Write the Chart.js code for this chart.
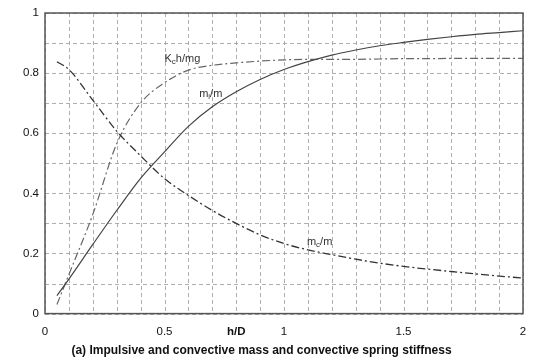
<!DOCTYPE html>
<html>
<head>
<meta charset="utf-8">
<script src="https://cdn.jsdelivr.net/npm/chart.js@4"></script>
<style>
   html, body { margin: 0; padding: 0; background: #fff; }
   #wrap { width: 534px; height: 360px; }
</style>
</head>
<body>
<div id="wrap"><canvas id="chart"></canvas></div>
<script>
// h/D values shared by all three curves
const hD = [0.05, 0.1, 0.2, 0.3, 0.4, 0.5, 0.6, 0.7, 0.8, 0.9, 1.0, 1.1, 1.2, 1.3, 1.4, 1.5, 1.6, 1.7, 1.8, 1.9, 2.0];
// impulsive mass ratio m_i/m
const miRatio = [0.06, 0.115, 0.23, 0.343, 0.45, 0.538, 0.623, 0.688, 0.738, 0.779, 0.812, 0.838, 0.86, 0.877, 0.891, 0.902, 0.912, 0.921, 0.929, 0.935, 0.941];
// convective mass ratio m_c/m
const mcRatio = [0.838, 0.812, 0.71, 0.607, 0.525, 0.449, 0.393, 0.343, 0.30, 0.262, 0.233, 0.212, 0.196, 0.181, 0.168, 0.157, 0.148, 0.14, 0.132, 0.125, 0.118];
// convective spring stiffness K_c h / m g
const kcRatio = [0.03, 0.13, 0.33, 0.565, 0.70, 0.768, 0.81, 0.826, 0.834, 0.84, 0.844, 0.846, 0.846, 0.846, 0.847, 0.848, 0.848, 0.849, 0.849, 0.849, 0.849];

const xLabels = [0, 0.5, 1, 1.5, 2];
const yLabels = [0, 0.2, 0.4, 0.6, 0.8, 1];

// curve labels: [main, subscript, rest, anchor x, anchor y]
const curveLabels = [
   ['K', 'c', 'h/mg', 0.50, 0.837],
   ['m', 'i', '/m', 0.645, 0.72],
   ['m', 'c', '/m', 1.096, 0.227]
];

const FONT = '"Liberation Sans", Arial, sans-serif';
const toPoints = ys => hD.map((x, i) => ({ x: x, y: ys[i] }));
const isLabelled = (v, list) => list.some(l => Math.abs(l - v) < 1e-6);

// dashed grid behind the curves, at every 0.1 step of both scales
const dashedGrid = {
   id: 'dashedGrid',
   beforeDatasetsDraw(chart) {
      const { ctx, chartArea, scales } = chart;
      ctx.save();
      ctx.strokeStyle = '#9a9a9a';
      ctx.lineWidth = 0.8;
      ctx.setLineDash([4, 3]);
      scales.x.ticks.forEach(t => {
         const px = Math.round(scales.x.getPixelForValue(t.value)) + 0.5;
         ctx.beginPath();
         ctx.moveTo(px, chartArea.top);
         ctx.lineTo(px, chartArea.bottom);
         ctx.stroke();
      });
      scales.y.ticks.forEach(t => {
         const py = Math.round(scales.y.getPixelForValue(t.value)) + 0.5;
         ctx.beginPath();
         ctx.moveTo(chartArea.left, py);
         ctx.lineTo(chartArea.right, py);
         ctx.stroke();
      });
      ctx.restore();
   }
};

const frameAndLabels = {
   id: 'frameAndLabels',
   afterDraw(chart) {
      const { ctx, chartArea, scales } = chart;
      ctx.save();
      ctx.strokeStyle = '#555';
      ctx.lineWidth = 1.5;
      ctx.setLineDash([]);
      ctx.strokeRect(chartArea.left, chartArea.top, chartArea.right - chartArea.left, chartArea.bottom - chartArea.top);

      ctx.fillStyle = '#333';
      ctx.textBaseline = 'alphabetic';
      ctx.textAlign = 'left';
      curveLabels.forEach(([main, sub, rest, lx, ly]) => {
         let px = scales.x.getPixelForValue(lx);
         const py = scales.y.getPixelForValue(ly);
         ctx.font = '11px ' + FONT;
         ctx.fillText(main, px, py);
         px += ctx.measureText(main).width;
         ctx.font = '8px ' + FONT;
         ctx.fillText(sub, px, py + 2);
         px += ctx.measureText(sub).width;
         ctx.font = '11px ' + FONT;
         ctx.fillText(rest, px, py);
      });
      ctx.restore();
   }
};

new Chart(document.getElementById('chart'), {
   type: 'line',
   data: {
      datasets: [
         {
            label: 'mi/m',
            data: toPoints(miRatio),
            borderColor: '#444',
            borderWidth: 1.2,
            pointRadius: 0,
            cubicInterpolationMode: 'monotone',
            fill: false
         },
         {
            label: 'mc/m',
            data: toPoints(mcRatio),
            borderColor: '#333',
            borderWidth: 1.3,
            borderDash: [8, 3, 2, 3],
            pointRadius: 0,
            cubicInterpolationMode: 'monotone',
            fill: false
         },
         {
            label: 'Kch/mg',
            data: toPoints(kcRatio),
            borderColor: '#666',
            borderWidth: 1.2,
            borderDash: [8, 3, 2, 3],
            pointRadius: 0,
            cubicInterpolationMode: 'monotone',
            fill: false
         }
      ]
   },
   options: {
      responsive: true,
      maintainAspectRatio: false,
      animation: false,
      layout: {
         padding: { top: 13, right: 11, left: 0, bottom: 0 }
      },
      plugins: {
         legend: { display: false },
         tooltip: { enabled: false },
         title: {
            display: true,
            position: 'bottom',
            text: '(a) Impulsive and convective mass and convective spring stiffness',
            color: '#111',
            font: { size: 12, weight: 'bold', family: FONT },
            padding: { top: 4, bottom: 2 }
         }
      },
      scales: {
         x: {
            type: 'linear',
            min: 0,
            max: 2,
            afterFit: scale => {
               scale.height = 26;
               scale.paddingLeft = 0;
               scale.paddingRight = 0;
            },
            afterBuildTicks: scale => {
               const ticks = [];
               for (let i = 0; i <= 20; i++) ticks.push({ value: i / 10 });
               scale.ticks = ticks;
            },
            ticks: {
               autoSkip: false,
               maxRotation: 0,
               padding: 11,
               color: '#111',
               font: ctx => {
                  const v = ctx.tick ? Math.round(ctx.tick.value * 10) : -1;
                  return { size: 11.5, weight: v === 8 ? 'bold' : 'normal', family: FONT };
               },
               callback: value => {
                  if (Math.round(value * 10) === 8) return 'h/D';
                  return isLabelled(value, xLabels) ? String(Math.round(value * 10) / 10) : '';
               }
            },
            grid: { display: false, drawTicks: false },
            border: { display: false }
         },
         y: {
            min: 0,
            max: 1,
            afterFit: scale => { scale.width = 45; },
            afterBuildTicks: scale => {
               const ticks = [];
               for (let i = 0; i <= 10; i++) ticks.push({ value: i / 10 });
               scale.ticks = ticks;
            },
            ticks: {
               autoSkip: false,
               padding: 6,
               color: '#111',
               font: { size: 11.5, family: FONT },
               callback: value => isLabelled(value, yLabels) ? String(Math.round(value * 10) / 10) : ''
            },
            grid: { display: false, drawTicks: false },
            border: { display: false }
         }
      }
   },
   plugins: [dashedGrid, frameAndLabels]
});
</script>
</body>
</html>
